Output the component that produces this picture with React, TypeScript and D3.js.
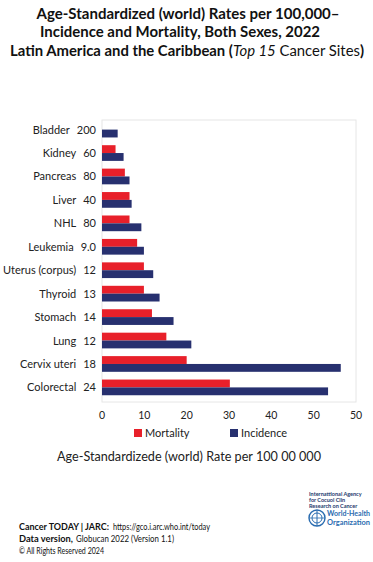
import React from "react";
import * as d3 from "d3";

// categories, top to bottom, with the count shown beside each name
const sites = ["Bladder", "Kidney", "Pancreas", "Liver", "NHL", "Leukemia", "Uterus (corpus)", "Thyroid", "Stomach", "Lung", "Cervix uteri", "Colorectal"];
const siteRanks = ["200", "60", "80", "40", "80", "9.0", "12", "13", "14", "12", "18", "24"];
const mortality = [0, 3.2, 5.4, 6.5, 6.5, 8.3, 9.9, 9.9, 11.8, 15.2, 20.0, 30.2];
const incidence = [3.7, 5.1, 6.5, 7.0, 9.3, 9.9, 12.1, 13.6, 16.9, 21.1, 56.4, 53.4];
const tickValues = [0, 10, 20, 30, 40, 50, 60];
const tickLabels = ["0", "10", "20", "30", "40", "50", "50"];

const RED = "#e8202a";
const BLUE = "#27306f";
const FONT = "Lato, 'Open Sans', sans-serif";

const App = () => {
  const width = 373;
  const height = 562;

  const x = d3.scaleLinear().domain([0, 60]).range([102, 356]);
  const y = d3.scaleBand().domain(sites).range([118, 399]).paddingInner(0.33).paddingOuter(0.16);
  const half = y.bandwidth() / 2;

  return (
    <svg width={width} height={height} style={{ position: "absolute", left: 0, top: 0, background: "#fff" }} fontFamily={FONT}>
      {/* title */}
      <g fontWeight="bold" fontSize={14.5} fill="#111" textAnchor="middle">
        <text x={188} y={19} textLength={303} lengthAdjust="spacingAndGlyphs">Age-Standardized (world) Rates per 100,000–</text>
        <text x={180} y={37} textLength={280} lengthAdjust="spacingAndGlyphs">Incidence and Mortality, Both Sexes, 2022</text>
        <text x={187} y={56} textLength={354} lengthAdjust="spacingAndGlyphs">
          Latin America and the Caribbean (<tspan fontStyle="italic" fontWeight="normal">Top 15</tspan><tspan fontWeight="normal"> Cancer Sites</tspan>)
        </text>
      </g>

      {/* plot frame */}
      <rect x={102} y={120} width={254} height={282} fill="none" stroke="#e6e6e6" strokeWidth={1} />

      {/* bars */}
      {sites.map((s, i) => (
        <g key={s}>
          {mortality[i] > 0 && (
            <rect x={x(0)} y={y(s)!} width={x(mortality[i]) - x(0)} height={half} fill={RED} />
          )}
          <rect x={x(0)} y={y(s)! + half} width={x(incidence[i]) - x(0)} height={half} fill={BLUE} />
          <text x={96} y={y(s)! + half + 4} textAnchor="end" fontSize={11} fill="#222">
            {s}<tspan dx={7}>{siteRanks[i]}</tspan>
          </text>
        </g>
      ))}

      {/* x axis ticks */}
      {tickValues.map((v, i) => (
        <text key={i} x={x(v)} y={419} textAnchor="middle" fontSize={10.5} fill="#222">{tickLabels[i]}</text>
      ))}

      {/* legend */}
      <rect x={134} y={429} width={8} height={8} fill={RED} />
      <text x={145} y={437} fontSize={11} fill="#222">Mortality</text>
      <rect x={230} y={429} width={8} height={8} fill={BLUE} />
      <text x={241} y={437} fontSize={11} fill="#222">Incidence</text>

      {/* axis title */}
      <text x={189} y={461} textAnchor="middle" fontSize={12.5} fill="#222" textLength={264} lengthAdjust="spacingAndGlyphs">
        Age-Standardizede (world) Rate per 100 00 000
      </text>

      {/* footer */}
      <g fontSize={10} fill="#111">
        <text x={19} y={530} fontWeight="bold" textLength={90} lengthAdjust="spacingAndGlyphs">Cancer TODAY | JARC:</text>
        <text x={113} y={530} textLength={97} lengthAdjust="spacingAndGlyphs">https://gco.i.arc.who.int/today</text>
        <text x={19} y={542} fontWeight="bold" textLength={54} lengthAdjust="spacingAndGlyphs">Data version,</text>
        <text x={76} y={542} textLength={98} lengthAdjust="spacingAndGlyphs">Globucan 2022 (Version 1.1)</text>
        <text x={19} y={554} fontSize={9} textLength={85} lengthAdjust="spacingAndGlyphs">© All Rights Reserved 2024</text>
      </g>

      {/* logos */}
      <g fill="#1f3a6e" fontWeight="bold" fontSize={5.5}>
        <text x={309} y={496}>Internattional Agency</text>
        <text x={309} y={502}>for Cocuol Clin</text>
        <text x={309} y={508}>Research on Cancer</text>
      </g>
      <g>
        <circle cx={317} cy={518} r={8} fill="#fff" stroke="#2a6cb0" strokeWidth={1.4} />
        <circle cx={317} cy={518} r={5} fill="none" stroke="#2a6cb0" strokeWidth={1} />
        <line x1={317} y1={510} x2={317} y2={526} stroke="#2a6cb0" strokeWidth={1} />
        <line x1={309} y1={518} x2={325} y2={518} stroke="#2a6cb0" strokeWidth={0.8} />
      </g>
      <g fill="#2a6cb0" fontWeight="bold" fontSize={7.5}>
        <text x={327} y={516} textLength={43} lengthAdjust="spacingAndGlyphs">World-Health</text>
        <text x={327} y={525} textLength={43} lengthAdjust="spacingAndGlyphs">Organization</text>
      </g>
    </svg>
  );
};

export default App;
